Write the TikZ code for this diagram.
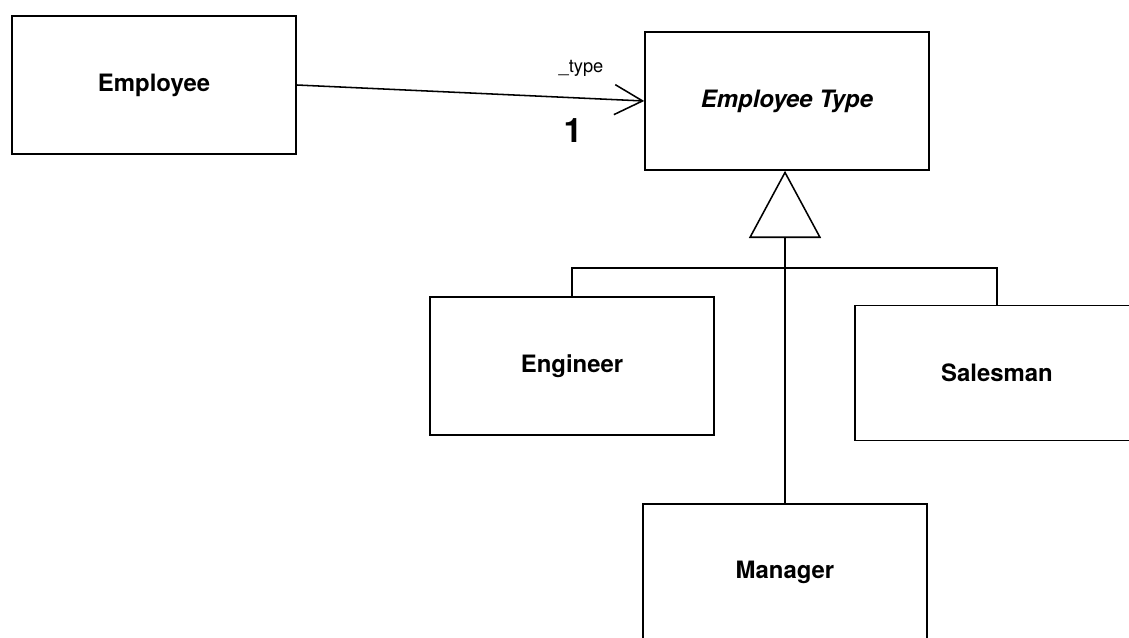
\documentclass[tikz,border=0pt]{standalone}
\usepackage{fontspec}
\setmainfont{TeX Gyre Heros}
\usepackage{tikz}
\usetikzlibrary{arrows.meta, positioning}

\begin{document}
\begin{tikzpicture}[
    x=0.025cm, y=-0.025cm,
    classbox/.style={rectangle, draw, line width=1.1pt, align=center, minimum width=7.1cm, minimum height=3.45cm, font=\fontsize{17}{20}\selectfont\bfseries},
    assoc/.style={draw, line width=1.1pt, -{Straight Barb[length=0.7cm, width=0.75cm, line width=1.1pt]}},
    inherit/.style={draw, line width=1.1pt, -{Triangle[open, length=1.68cm, width=1.8cm, line width=1.1pt]}},
    tree/.style={draw, line width=1.1pt}
]
\useasboundingbox (0,0) rectangle (1129,637);

% Classes
\node [classbox] (emp) at (154,85) {Employee};
\node [classbox] (etype) at (787,101) {\textit{Employee Type}};
\node [classbox] (eng) at (572,366) {Engineer};
\node [classbox, minimum height=3.38cm] (sal) at (997,373) {Salesman};
\node [classbox, minimum height=3.4cm] (mgr) at (785,572) {Manager};

% Association
\path [assoc] (emp.east) -- (etype.west);
\node [font=\fontsize{13}{15}\selectfont] (role) at (581,68) {\_type};
\node [font=\fontsize{24}{28}\selectfont\bfseries] (mult) at (573,131) {1};

% Generalization
\coordinate (bar) at (785,268);
\path [inherit] (mgr.north) -- (mgr.north |- etype.south);
\path [tree] (eng.north) |- (bar) -| (sal.north);

\end{tikzpicture}
\end{document}
